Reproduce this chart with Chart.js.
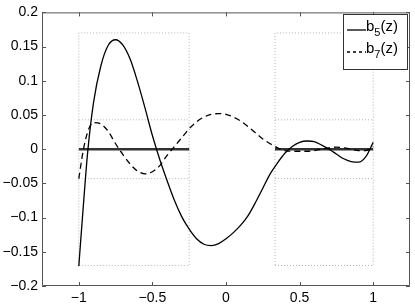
<!DOCTYPE html>
<html>
<head>
<meta charset="utf-8">
<script src="https://cdn.jsdelivr.net/npm/chart.js@4.4.0/dist/chart.umd.min.js"></script>
<style>
  body { margin: 0; background: #ffffff; }
</style>
</head>
<body>
<canvas id="myChart" width="415" height="304"></canvas>
<script>
// values
const zValues = [-1.00, -0.97, -0.94, -0.90, -0.85, -0.80, -0.75, -0.70, -0.65, -0.60, -0.55, -0.50, -0.45, -0.40, -0.35, -0.30, -0.25, -0.20, -0.15, -0.10, -0.05, 0.00, 0.05, 0.10, 0.15, 0.20, 0.25, 0.30, 0.35, 0.40, 0.45, 0.50, 0.55, 0.60, 0.65, 0.70, 0.75, 0.80, 0.85, 0.90, 0.95, 1.00];
const b5 = [-0.171, -0.085, -0.005, 0.068, 0.122, 0.152, 0.160, 0.152, 0.131, 0.098, 0.060, 0.020, -0.015, -0.046, -0.075, -0.099, -0.117, -0.131, -0.139, -0.141, -0.138, -0.131, -0.122, -0.111, -0.097, -0.078, -0.057, -0.036, -0.020, -0.006, 0.004, 0.010, 0.012, 0.011, 0.006, 0.000, -0.007, -0.014, -0.018, -0.019, -0.011, 0.010];
const b7 = [-0.043, -0.002, 0.025, 0.039, 0.037, 0.026, 0.008, -0.008, -0.022, -0.032, -0.036, -0.033, -0.024, -0.009, 0.004, 0.017, 0.030, 0.040, 0.047, 0.051, 0.052, 0.051, 0.047, 0.041, 0.033, 0.024, 0.015, 0.008, 0.002, -0.002, -0.003, -0.003, -0.003, -0.002, 0.000, 0.002, 0.003, 0.002, 0.000, -0.002, -0.002, 0.004];
const windowsX = [[-1, -0.25], [0.333, 1]];
const outerHalf = 0.17;
const innerHalf = 0.043;
const xTickValues = [-1, -0.5, 0, 0.5, 1];
const xTickLabels = ['\u22121', '\u22120.5', '0', '0.5', '1'];
const yTickValues = [0.2, 0.15, 0.1, 0.05, 0, -0.05, -0.1, -0.15, -0.2];
const yTickLabels = ['0.2', '0.15', '0.1', '0.05', '0', '\u22120.05', '\u22120.1', '\u22120.15', '\u22120.2'];
const seriesNames = [['b', '5', '(z)'], ['b', '7', '(z)']];

const pts = (ys) => zValues.map((x, i) => ({x: x, y: ys[i]}));

const datasets = [
    {data: pts(b5), borderColor: '#000000', borderWidth: 1.3, pointRadius: 0, cubicInterpolationMode: 'monotone'},
    {data: pts(b7), borderColor: '#000000', borderWidth: 1.3, borderDash: [6, 4], pointRadius: 0, cubicInterpolationMode: 'monotone'},
];
windowsX.forEach(([a, b]) => {
    datasets.push({data: [{x: a, y: 0}, {x: b, y: 0}], borderColor: '#333333', borderWidth: 2.5, pointRadius: 0});
});
windowsX.forEach(([a, b]) => {
    datasets.push({data: [{x: a, y: -outerHalf}, {x: b, y: -outerHalf}, {x: b, y: outerHalf}, {x: a, y: outerHalf}, {x: a, y: -outerHalf}],
        borderColor: '#b4b4b4', borderWidth: 1, borderDash: [1, 2], pointRadius: 0});
    [innerHalf, -innerHalf].forEach(h => {
        datasets.push({data: [{x: a, y: h}, {x: b, y: h}], borderColor: '#b4b4b4', borderWidth: 1, borderDash: [1, 2], pointRadius: 0});
    });
});

const frame = {
    id: 'frame',
    beforeDraw: (chart) => {
        const {ctx} = chart;
        ctx.save();
        ctx.fillStyle = '#ffffff';
        ctx.fillRect(0, 0, chart.width, chart.height);
        ctx.restore();
    },
    afterDraw: (chart) => {
        const {ctx, chartArea: a} = chart;
        const sx = chart.scales.x, sy = chart.scales.y;
        ctx.save();
        ctx.strokeStyle = '#555555';
        ctx.lineWidth = 1;
        ctx.beginPath();
        ctx.rect(a.left + 0.5, a.top + 0.5, a.right - a.left - 1, a.bottom - a.top - 1);
        xTickValues.forEach(v => {
            const p = Math.round(sx.getPixelForValue(v)) + 0.5;
            ctx.moveTo(p, a.bottom); ctx.lineTo(p, a.bottom - 4);
            ctx.moveTo(p, a.top); ctx.lineTo(p, a.top + 4);
        });
        yTickValues.forEach(v => {
            const p = Math.round(sy.getPixelForValue(v)) + 0.5;
            ctx.moveTo(a.left, p); ctx.lineTo(a.left + 4, p);
            ctx.moveTo(a.right, p); ctx.lineTo(a.right - 4, p);
        });
        ctx.stroke();

        // legend
        const L = 343, T = 14, W = 64, H = 55;
        ctx.fillStyle = '#ffffff';
        ctx.fillRect(L, T, W, H);
        ctx.strokeStyle = '#333333';
        ctx.strokeRect(L + 0.5, T + 0.5, W, H);
        seriesNames.forEach((parts, i) => {
            const ly = 30 + i * 22;
            ctx.strokeStyle = '#000000';
            ctx.lineWidth = 1.3;
            ctx.setLineDash(i === 0 ? [] : [3, 3]);
            ctx.beginPath();
            ctx.moveTo(347, ly); ctx.lineTo(366, ly);
            ctx.stroke();
            ctx.setLineDash([]);
            ctx.fillStyle = '#000000';
            ctx.textBaseline = 'alphabetic';
            ctx.textAlign = 'left';
            let x = 366;
            ctx.font = '15px "Liberation Sans", Arial, sans-serif';
            ctx.fillText(parts[0], x, ly + 1);
            x += ctx.measureText(parts[0]).width;
            ctx.font = '11px "Liberation Sans", Arial, sans-serif';
            ctx.fillText(parts[1], x, ly + 6);
            x += ctx.measureText(parts[1]).width;
            ctx.font = '15px "Liberation Sans", Arial, sans-serif';
            ctx.fillText(parts[2], x, ly + 1);
        });
        ctx.restore();
    }
};

new Chart(document.getElementById('myChart'), {
    type: 'line',
    data: {datasets: datasets},
    options: {
        responsive: false,
        animation: false,
        layout: {padding: {top: 11, right: 5, left: 0, bottom: 0}},
        plugins: {legend: {display: false}, tooltip: {enabled: false}},
        scales: {
            x: {
                type: 'linear', min: -1.25, max: 1.25,
                border: {display: false},
                grid: {display: false, drawTicks: false},
                afterFit: (s) => { s.height = 18; },
                afterBuildTicks: (s) => { s.ticks = xTickValues.map(v => ({value: v})); },
                ticks: {
                    padding: 4, color: '#000000', maxRotation: 0, autoSkip: false,
                    font: {family: '"Liberation Sans", Arial, sans-serif', size: 14},
                    callback: (v, i) => xTickLabels[i]
                }
            },
            y: {
                type: 'linear', min: -0.2, max: 0.2,
                border: {display: false},
                grid: {display: false, drawTicks: false},
                afterFit: (s) => { s.width = 42; },
                afterBuildTicks: (s) => { s.ticks = yTickValues.map(v => ({value: v})); },
                ticks: {
                    padding: 4, color: '#000000', autoSkip: false,
                    font: {family: '"Liberation Sans", Arial, sans-serif', size: 14},
                    callback: (v, i) => yTickLabels[i]
                }
            }
        }
    },
    plugins: [frame]
});
</script>
</body>
</html>
